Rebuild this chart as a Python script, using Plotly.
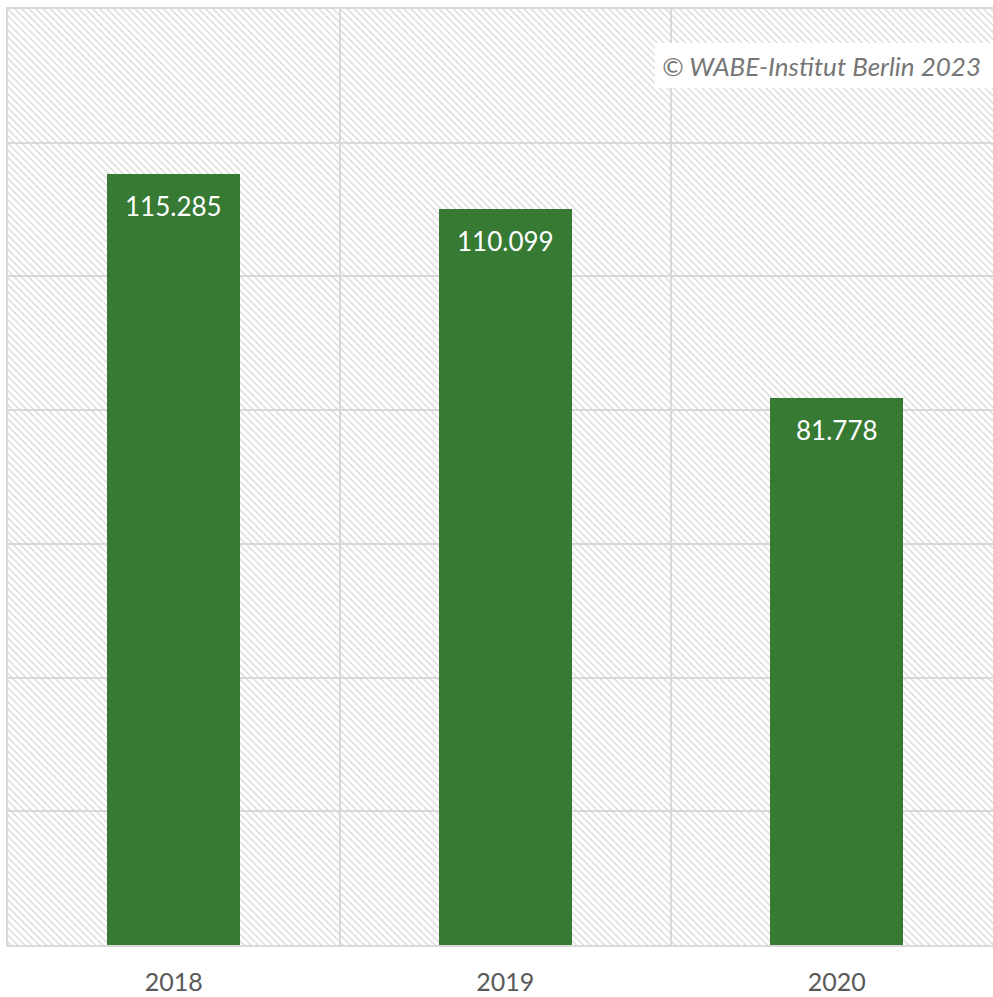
import plotly.graph_objects as go

years = ["2018", "2019", "2020"]
values = [115.285, 110.099, 81.778]
labels = ["115.285", "110.099", "81.778"]
y_max = 140
watermark = "© WABE-Institut Berlin 2023"

xpos = list(range(len(years)))
bar_color = "#367A34"
grid_color = "#d9d9d9"
font_family = "Lato, 'Open Sans', sans-serif"

fig = go.Figure()

# hatched background
fig.add_trace(go.Bar(
    x=[(len(years) - 1) / 2], y=[y_max], width=[len(years)],
    marker=dict(color="rgba(0,0,0,0)", line=dict(width=0),
                pattern=dict(shape="\\", fgcolor="#d4d4d4", bgcolor="rgba(0,0,0,0)",
                             size=5, solidity=0.25, fillmode="replace")),
    hoverinfo="skip", showlegend=False,
))

fig.add_trace(go.Bar(
    x=xpos, y=values, width=0.4,
    marker=dict(color=bar_color, line=dict(width=0)),
    showlegend=False,
))

for xi, v, t in zip(xpos, values, labels):
    fig.add_annotation(x=xi, y=v, xref="x", yref="y", text=t, showarrow=False,
                       yanchor="top", yshift=-14,
                       font=dict(family=font_family, size=26, color="white"))

# watermark box + text
fig.add_shape(type="rect", xref="paper", yref="paper",
              x0=(655 - 8) / 985, x1=1.05,
              y0=1 - (88 - 9) / 936, y1=1 - (43 - 9) / 936,
              fillcolor="white", line=dict(width=0), layer="above")
fig.add_annotation(x=1 - 10 / 985, y=1 - (66 - 9) / 936, xref="paper", yref="paper",
                   xanchor="right", yanchor="middle", text=watermark, showarrow=False,
                   font=dict(family=font_family, size=26, color="#767676", style="italic"))

fig.update_layout(
    width=993, height=997,
    margin=dict(l=8, r=0, t=9, b=52),
    paper_bgcolor="white", plot_bgcolor="white",
    barmode="overlay", bargap=0,
    xaxis=dict(range=[-0.5, -0.5 + 985 / 331.5], tickvals=xpos, ticktext=years,
               showgrid=False, zeroline=False, automargin=False,
               ticks="outside", ticklen=14, tickcolor="rgba(0,0,0,0)",
               tickfont=dict(family=font_family, size=25, color="#595959"),
               showline=True, linecolor=grid_color, linewidth=2, mirror=True,
               minor=dict(tickvals=[-0.5, 0.5, 1.5, 2.5], showgrid=True,
                          gridcolor=grid_color, gridwidth=2, ticks="")),
    yaxis=dict(range=[0, y_max], dtick=20, showticklabels=False, automargin=False,
               showgrid=True, gridcolor=grid_color, gridwidth=2, zeroline=False,
               showline=True, linecolor=grid_color, linewidth=2, mirror=False),
)

fig.write_html("out.html")
